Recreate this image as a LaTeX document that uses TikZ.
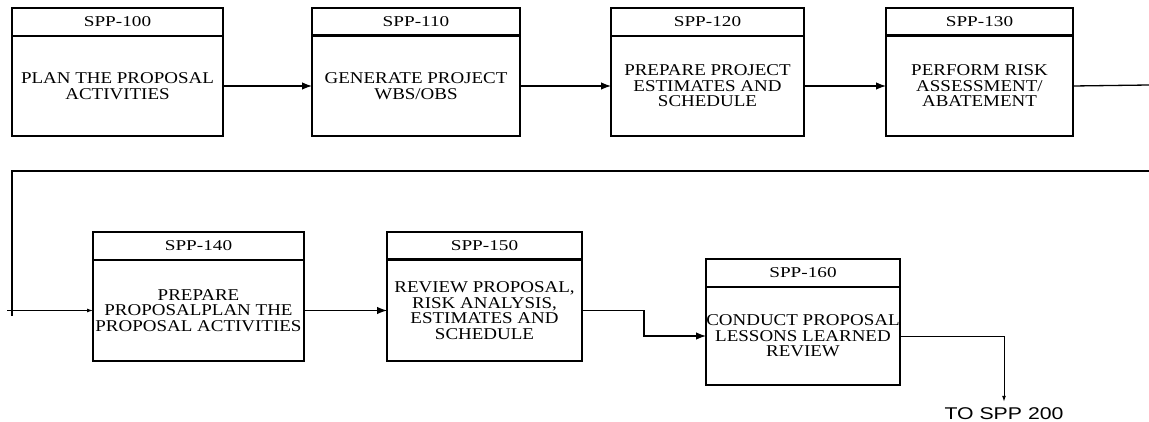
\documentclass[tikz,border=0pt]{standalone}
\usepackage{fontspec}
\setmainfont{Liberation Serif}
\newfontfamily\boxfont[FakeStretch=1.15]{Liberation Serif}
\newfontfamily\hdrfont[FakeStretch=1.28]{Liberation Serif}
\newfontfamily\labelfont[FakeStretch=1.25]{Liberation Sans}
\usetikzlibrary{arrows.meta,positioning}
\tikzset{
     body/.style   = {draw, line width=1.3pt, outer sep=0pt, inner sep=0pt,
                      minimum height=100pt, align=center,
                      font=\boxfont\fontsize{16.5}{15.5}\selectfont},
     hdr/.style    = {draw, line width=1.3pt, outer sep=0pt, inner sep=0pt,
                      minimum height=28pt, font=\hdrfont\fontsize{15}{15}\selectfont},
     divider/.style = {line width=3pt},
     wire/.style   = {black, line width=1.3pt},
     flow/.style   = {black, line width=1.2pt, -{Latex[length=10pt,width=7.5pt]}},
     flowthin/.style = {black, line width=1pt, -{Latex[length=6pt,width=4pt]}},
     label node/.style = {inner sep=0pt, font=\labelfont\fontsize{17}{17}\selectfont},
    }
\begin{document}
\begin{tikzpicture}[x=1pt,y=-1pt]
        \useasboundingbox (0,0) rectangle (1149,422);
        % top row
        \node [body, minimum width=211pt] (b100) at (117.5,86) {PLAN THE PROPOSAL\\ACTIVITIES};
        \node [body, minimum width=208pt] (b110) [right=89pt of b100] {GENERATE PROJECT\\WBS/OBS};
        \node [body, minimum width=193pt] (b120) [right=91pt of b110] {PREPARE PROJECT\\ESTIMATES AND\\SCHEDULE};
        \node [body, minimum width=187pt] (b130) [right=82pt of b120] {PERFORM RISK\\ASSESSMENT/\\ABATEMENT};
        \node [hdr, minimum width=211pt] (h100) [above=0pt of b100] {SPP-100};
        \node [hdr, minimum width=208pt] (h110) [above=0pt of b110] {SPP-110};
        \node [hdr, minimum width=193pt] (h120) [above=0pt of b120] {SPP-120};
        \node [hdr, minimum width=187pt] (h130) [above=0pt of b130] {SPP-130};
        % bottom row
        \node [body, minimum width=211pt, minimum height=101pt] (b140) at (198.5,310.5) {PREPARE\\PROPOSALPLAN THE\\PROPOSAL ACTIVITIES};
        \node [body, minimum width=195pt, minimum height=101pt] (b150) [right=83pt of b140] {REVIEW PROPOSAL,\\RISK ANALYSIS,\\ESTIMATES AND\\SCHEDULE};
        \node [body, minimum width=194pt, minimum height=98pt] (b160) at (803,336) {CONDUCT PROPOSAL\\LESSONS LEARNED\\REVIEW};
        \node [hdr, minimum width=211pt] (h140) [above=0pt of b140] {SPP-140};
        \node [hdr, minimum width=195pt] (h150) [above=0pt of b150] {SPP-150};
        \node [hdr, minimum width=194pt] (h160) [above=0pt of b160] {SPP-160};
        \node [label node] (to200) at (1004,414) {TO SPP 200};
        % heavy dividers
        \draw [divider] (b110.north west) -- (b110.north east);
        \draw [divider] (b130.north west) -- (b130.north east);
        \draw [divider] (b150.north west) -- (b150.north east);
        % wrap round to second row
        \coordinate (out130) at (1149,85);
        \coordinate (wrapR) at (1149,171);
        \coordinate (wrapL) at (12,171);
        \coordinate (wrapD) at (12,316);
        \coordinate (in140) at (7,310.5);
        \draw [wire] (b130.east) -- (out130);
        \draw [wire] (wrapR) -- (wrapL) -- (wrapD);
        \path
        (b100) edge [flow] (b110)
        (b110) edge [flow] (b120)
        (b120) edge [flow] (b130)
        (in140) edge [flowthin] (b140)
        (b140) edge [flow] (b150);
        \draw [flow] (b150.east) -- ++(62,0) |- (b160.west);
        \draw [flowthin, shorten >=6pt] (b160.east) -| (to200.north);
    \end{tikzpicture}
\end{document}
